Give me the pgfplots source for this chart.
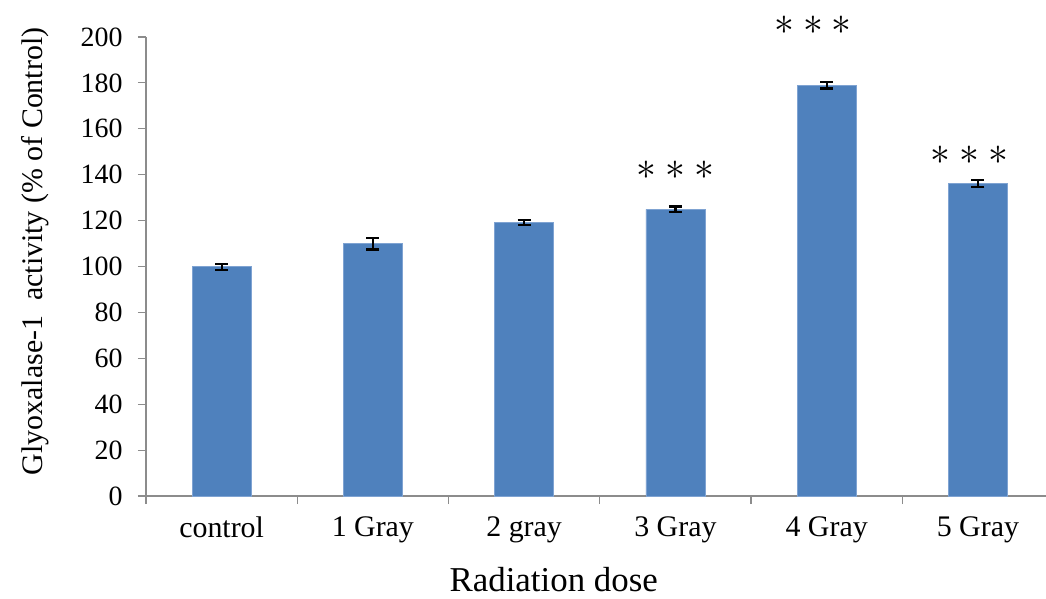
\documentclass[border=0pt]{standalone}
\usepackage{graphicx}
\usepackage{pgfplots}
\pgfplotsset{compat=1.18}
\usepackage{fontspec}
\setmainfont{Liberation Serif}
\definecolor{barblue}{HTML}{4F81BD}
\definecolor{baredge}{HTML}{7FA3D2}
\definecolor{axgray}{HTML}{8C8C8C}
\newcommand{\stars}{\fontsize{24}{24}\selectfont\scalebox{1.6}{$\ast\ast\ast$}}
\begin{document}
\begin{tikzpicture}
\begin{axis}[
  at={(0,0)}, anchor=south west,
  scale only axis,
  width=900bp, height=459bp,
  xmin=-0.5, xmax=5.45,
  ymin=0, ymax=200,
  clip=false,
  axis x line*=bottom, axis y line*=left,
  axis line style={-, draw=axgray, line width=1.2bp},
  ytick={0,20,...,200},
  xtick={0,...,5},
  xticklabels={control,1 Gray,2 gray,3 Gray,4 Gray,5 Gray},
  minor xtick={-0.5,0.5,1.5,2.5,3.5,4.5},
  major x tick style={draw=none},
  tick style={draw=axgray, line width=1.2bp},
  tick align=outside,
  major tick length=8bp, minor tick length=8bp,
  /pgf/number format/assume math mode=true,
  yticklabel style={font=\fontsize{28}{28}\selectfont, xshift=-12bp},
  xticklabel style={font=\fontsize{30}{30}\selectfont, yshift=-9bp},
  xlabel={Radiation dose},
  ylabel={Glyoxalase-1\ \ activity (\% of Control)},
  xlabel style={font=\fontsize{35}{35}\selectfont, at={(axis description cs:0.453,-0.183)}, anchor=center},
  ylabel style={font=\fontsize{30}{30}\selectfont, at={(axis description cs:-0.123,0.533)}, anchor=center, rotate=0},
]
\addplot[ybar, bar width=59bp, fill=barblue, draw=baredge, line width=0.8bp,
  error bars/.cd, y dir=both, y explicit,
  error bar style={black, line width=2.2bp},
  error mark options={black, line width=2.4bp, mark size=6.5bp, rotate=90}]
  table[x=x, y=y, y error=e] {
  x y e
  0 99.9 1.3
  1 109.9 2.5
  2 119.2 1.1
  3 124.9 1.2
  4 179.0 1.4
  5 136.1 1.5
};
\node[inner sep=0pt] at (axis cs:3,142) {\stars};
\node[inner sep=0pt] at (axis cs:3.91,205.3) {\stars};
\node[inner sep=0pt] at (axis cs:4.944,148.6) {\stars};
\end{axis}
\pgfresetboundingbox
\path (-146bp,-103bp) rectangle (900bp,496bp);
\end{tikzpicture}
\end{document}
